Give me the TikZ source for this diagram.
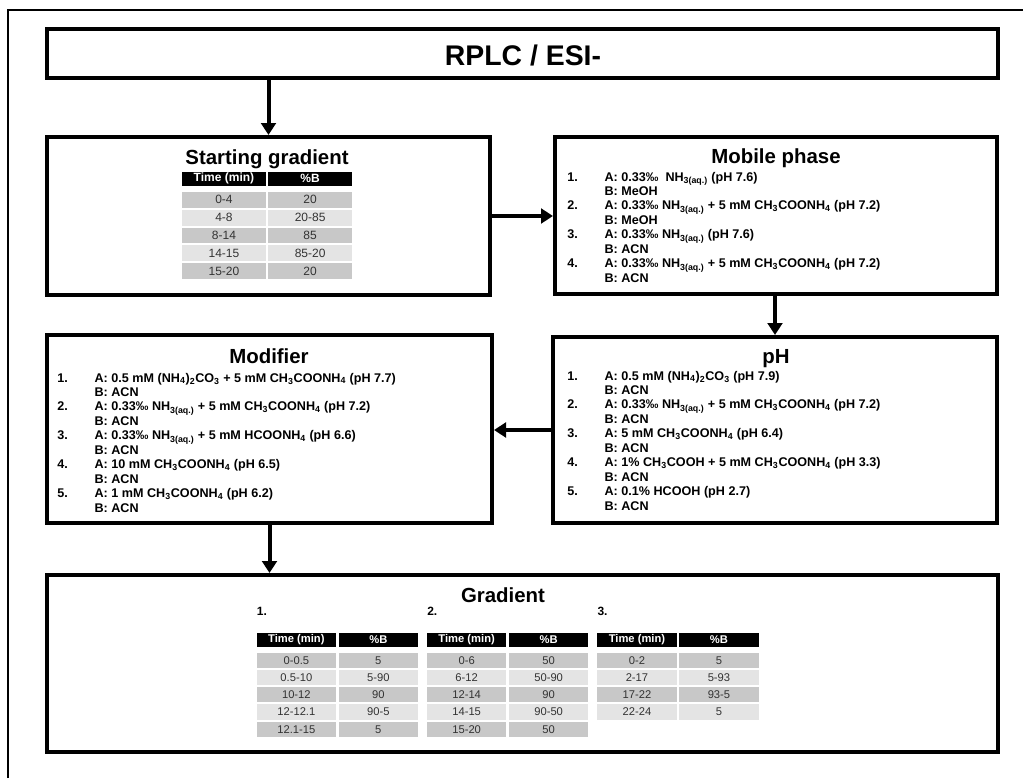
\documentclass[tikz,border=0pt]{standalone}
\usepackage{fontspec}
\setmainfont{Liberation Sans}
\usetikzlibrary{arrows.meta,fit}

\definecolor{rowdark}{HTML}{C8C8C8}
\definecolor{rowlight}{HTML}{E4E4E4}
\definecolor{celltext}{HTML}{333333}

\newcommand\chsub[1]{\textsubscript{#1}}
\newcommand\tabfs{9}

\tikzset{
  panel/.style={draw=black, line width=3pt, inner sep=0pt},
  flow/.style={line width=3pt, -{Triangle[length=9pt,width=11pt]}},
  heading/.style={font=\fontsize{15.3}{18}\selectfont\bfseries, anchor=base, inner sep=0pt},
  entries/.style={font=\fontsize{9.45}{10.85}\selectfont\bfseries, anchor=base west, inner sep=0pt},
  thead/.style={fill=black, text=white, font=\fontsize{\tabfs}{10}\selectfont\bfseries, inner sep=0pt},
  tcell/.style={text=celltext, font=\fontsize{\tabfs}{10}\selectfont, inner sep=0pt},
  tlabel/.style={font=\fontsize{9}{10}\selectfont\bfseries, anchor=base west, inner sep=0pt},
}

% gradient table: #1 name, #2 left x, #3 header top, #4 column width, #5 column gap,
% #6 header height, #7 first row top, #8 row pitch, #9 rows (time/%B)
\newcommand\gradtab[9]{%
  \node[thead, minimum width=#4*0.75pt, minimum height=#6*0.75pt] (#1-h1) at ({#2+#4/2},{#3+#6/2}) {Time (min)};
  \node[thead, minimum width=#4*0.75pt, minimum height=#6*0.75pt] (#1-h2) at ({#2+1.5*#4+#5},{#3+#6/2}) {\%B};
  \foreach \ta/\tb [count=\ri] in {#9}{%
    \pgfmathtruncatemacro\rodd{mod(\ri,2)}%
    \ifnum\rodd=1 \def\rfill{rowdark}\else\def\rfill{rowlight}\fi
    \node[tcell, fill=\rfill, minimum width=#4*0.75pt, minimum height=(#8-2)*0.75pt]
      (#1-\ri-a) at ({#2+#4/2},{#7+(\ri-1)*#8+(#8-2)/2}) {\ta};
    \node[tcell, fill=\rfill, minimum width=#4*0.75pt, minimum height=(#8-2)*0.75pt]
      (#1-\ri-b) at ({#2+1.5*#4+#5},{#7+(\ri-1)*#8+(#8-2)/2}) {\tb};
  }%
}

\begin{document}
\begin{tikzpicture}[x=0.75pt, y=-0.75pt]
\useasboundingbox (0,0) rectangle (1023,778);
\fill[white] (0,0) rectangle (1023,778);

% outer frame
\draw[line width=1.5pt] (8,778) -- (8,10) -- (1023,10);

% panels
\node[panel, fit={(47,29) (998,78)}] (top) {};
\node[panel, fit={(47,137) (490,295)}] (sg) {};
\node[panel, fit={(555,137) (997,294)}] (mp) {};
\node[panel, fit={(553,337) (997,523)}] (ph) {};
\node[panel, fit={(47,335) (492,523)}] (mod) {};
\node[panel, fit={(47,575) (998,752)}] (grad) {};

% titles
\node[font=\fontsize{21.3}{24}\selectfont\bfseries, anchor=base, inner sep=0pt] (ttl) at (523,65) {RPLC / ESI-};
\node[heading] (sgt) at (267,164) {Starting gradient};
\node[heading] (mpt) at (776,163) {Mobile phase};
\node[heading] (modt) at (269,363) {Modifier};
\node[heading] (pht) at (776,363) {pH};
\node[heading] (gradt) at (503,602) {Gradient};

% mobile phase list
\node[entries] (mpl) at (567,181) {%
\begin{tabular}[t]{@{}p{28pt}@{}l@{}}
1. & A: 0.33‰~ NH\chsub{3(aq.)} (pH 7.6)\\
   & B: MeOH\\
2. & A: 0.33‰ NH\chsub{3(aq.)} + 5 mM CH\chsub{3}COONH\chsub{4} (pH 7.2)\\
   & B: MeOH\\
3. & A: 0.33‰ NH\chsub{3(aq.)} (pH 7.6)\\
   & B: ACN\\
4. & A: 0.33‰ NH\chsub{3(aq.)} + 5 mM CH\chsub{3}COONH\chsub{4} (pH 7.2)\\
   & B: ACN
\end{tabular}};

% modifier list
\node[entries] (modl) at (57,382) {%
\begin{tabular}[t]{@{}p{28pt}@{}l@{}}
1. & A: 0.5 mM (NH\chsub{4})\chsub{2}CO\chsub{3} + 5 mM CH\chsub{3}COONH\chsub{4} (pH 7.7)\\
   & B: ACN\\
2. & A: 0.33‰ NH\chsub{3(aq.)} + 5 mM CH\chsub{3}COONH\chsub{4} (pH 7.2)\\
   & B: ACN\\
3. & A: 0.33‰ NH\chsub{3(aq.)} + 5 mM HCOONH\chsub{4} (pH 6.6)\\
   & B: ACN\\
4. & A: 10 mM CH\chsub{3}COONH\chsub{4} (pH 6.5)\\
   & B: ACN\\
5. & A: 1 mM CH\chsub{3}COONH\chsub{4} (pH 6.2)\\
   & B: ACN
\end{tabular}};

% pH list
\node[entries] (phl) at (567,380) {%
\begin{tabular}[t]{@{}p{28pt}@{}l@{}}
1. & A: 0.5 mM (NH\chsub{4})\chsub{2}CO\chsub{3} (pH 7.9)\\
   & B: ACN\\
2. & A: 0.33‰ NH\chsub{3(aq.)} + 5 mM CH\chsub{3}COONH\chsub{4} (pH 7.2)\\
   & B: ACN\\
3. & A: 5 mM CH\chsub{3}COONH\chsub{4} (pH 6.4)\\
   & B: ACN\\
4. & A: 1\% CH\chsub{3}COOH + 5 mM CH\chsub{3}COONH\chsub{4} (pH 3.3)\\
   & B: ACN\\
5. & A: 0.1\% HCOOH (pH 2.7)\\
   & B: ACN
\end{tabular}};

% starting gradient table
\gradtab{sgtab}{181.7}{171.7}{84.5}{1.7}{14.3}{191.7}{17.9}{0-4/20, 4-8/20-85, 8-14/85, 14-15/85-20, 15-20/20}

% gradient tables
\renewcommand\tabfs{8.4}
\node[tlabel] (g1l) at (256.7,615) {1.};
\node[tlabel] (g2l) at (427,615) {2.};
\node[tlabel] (g3l) at (597.3,615) {3.};
\gradtab{gt1}{256.7}{632.7}{79.3}{2.7}{14.6}{652.7}{17.25}{0-0.5/5, 0.5-10/5-90, 10-12/90, 12-12.1/90-5, 12.1-15/5}
\gradtab{gt2}{427}{632.7}{79.3}{2.7}{14.6}{652.7}{17.25}{0-6/50, 6-12/50-90, 12-14/90, 14-15/90-50, 15-20/50}
\gradtab{gt3}{597.3}{632.7}{79.3}{2.7}{14.6}{652.7}{17.25}{0-2/5, 2-17/5-93, 17-22/93-5, 22-24/5}

% connectors
\draw[flow] (top.south -| sg.north) -- (sg.north);
\draw[flow] (sg.east) -- (mp.west |- sg.east);
\draw[flow] (mp.south -| ph.north) -- (ph.north);
\draw[flow] (ph.west) -- (mod.east |- ph.west);
\draw[flow] (mod.south) -- (grad.north -| mod.south);
\end{tikzpicture}
\end{document}
